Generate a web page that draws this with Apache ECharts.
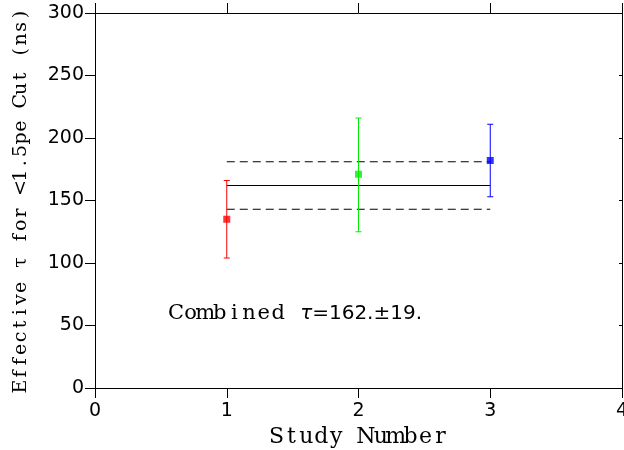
<!DOCTYPE html>
<html>
<head>
<meta charset="utf-8">
<script src="https://cdn.jsdelivr.net/npm/echarts@6/dist/echarts.min.js"></script>
<style>
html,body{margin:0;padding:0;background:#fff;}
#charts{width:624px;height:450px;}
</style>
</head>
<body>
<div id="charts"></div>
<script>
// study values
var studyNumber = [1, 2, 3];
var tauValue = [135, 171, 182];
var tauLow = [104, 125, 153];
var tauHigh = [166, 216, 211];
var studyColors = ['#ff0000', '#00ee00', '#0000ff'];
var combinedTau = 162;
var combinedErr = 19;
var combinedRange = [1, 3];
var xTicks = [0, 1, 2, 3, 4];
var yTicks = [0, 50, 100, 150, 200, 250, 300];

var serifFont = 'DejaVu Serif';
var sansFont = 'DejaVu Sans';

// typewriter look: every character in its own fixed cell
function monoRich(str){
	var out = '';
	for (var i = 0; i < str.length; i++) {
		out += '{c|' + str.charAt(i) + '}';
	}
	return out;
}
function cellStyle(size, pitch){
	return {c: {fontFamily: serifFont, fontSize: size, width: pitch, align: 'center', color: '#000'}};
}
function buildPoints(){
	var pts = [];
	for (var i = 0; i < studyNumber.length; i++) {
		pts.push({value: [studyNumber[i], tauValue[i]], itemStyle: {color: studyColors[i]}});
	}
	return pts;
}
function buildErrors(){
	var errs = [];
	for (var i = 0; i < studyNumber.length; i++) {
		errs.push([studyNumber[i], tauLow[i], tauHigh[i], i]);
	}
	return errs;
}
function renderError(params, api){
	var x = api.value(0);
	var lo = api.coord([x, api.value(1)]);
	var hi = api.coord([x, api.value(2)]);
	var c = studyColors[api.value(3)];
	var cap = 3;
	var style = {stroke: c, lineWidth: 1};
	return {
		type: 'group',
		children: [
			{type: 'line', shape: {x1: lo[0], y1: lo[1], x2: hi[0], y2: hi[1]}, style: style},
			{type: 'line', shape: {x1: lo[0] - cap, y1: lo[1], x2: lo[0] + cap, y2: lo[1]}, style: style},
			{type: 'line', shape: {x1: hi[0] - cap, y1: hi[1], x2: hi[0] + cap, y2: hi[1]}, style: style}
		]
	};
}

var axisLine = {show: true, onZero: false, lineStyle: {color: '#000', width: 1}};

var annoRich = cellStyle(21, 14.6);
annoRich.t = {fontFamily: sansFont, fontSize: 20, fontStyle: 'italic', fill: '#000'};
annoRich.s = {fontFamily: sansFont, fontSize: 20, fill: '#000'};

var options = {
	animation: false,
	backgroundColor: '#fff',
	grid: {left: 95, right: 2, top: 13, bottom: 62, containLabel: false, outerBoundsMode: 'none'},
	xAxis: [{
		type: 'value', min: xTicks[0], max: xTicks[xTicks.length - 1], interval: 1,
		position: 'bottom',
		name: monoRich('Study Number'), nameLocation: 'middle', nameGap: 38,
		nameTextStyle: {rich: cellStyle(22, 14.9)},
		axisLine: axisLine,
		axisTick: {show: true, inside: false, length: 10, lineStyle: {color: '#000'}},
		axisLabel: {fontFamily: sansFont, fontSize: 19, color: '#000', margin: 14},
		splitLine: {show: false}
	}, {
		type: 'value', min: xTicks[0], max: xTicks[xTicks.length - 1], interval: 1,
		position: 'top',
		axisLine: axisLine,
		axisTick: {show: true, inside: false, length: 10, lineStyle: {color: '#000'}},
		axisLabel: {show: false},
		splitLine: {show: false}
	}],
	yAxis: [{
		type: 'value', min: yTicks[0], max: yTicks[yTicks.length - 1], interval: 50,
		position: 'left',
		name: monoRich('Effective \u03c4 for <1.5pe Cut (ns)'), nameLocation: 'middle', nameGap: 64,
		nameTextStyle: {rich: cellStyle(19, 12.4)},
		axisLine: axisLine,
		axisTick: {show: true, inside: false, length: 10, lineStyle: {color: '#000'}},
		axisLabel: {fontFamily: sansFont, fontSize: 19, color: '#000', margin: 11},
		splitLine: {show: false}
	}, {
		type: 'value', min: yTicks[0], max: yTicks[yTicks.length - 1], interval: 50,
		position: 'right',
		axisLine: axisLine,
		axisTick: {show: true, inside: true, length: 3, lineStyle: {color: '#000'}},
		axisLabel: {show: false},
		splitLine: {show: false}
	}],
	series: [{
		type: 'line',
		data: [[combinedRange[0], combinedTau], [combinedRange[1], combinedTau]],
		symbol: 'none',
		lineStyle: {color: '#000', width: 1},
		z: 2
	}, {
		type: 'line',
		data: [[combinedRange[0], combinedTau + combinedErr], [combinedRange[1], combinedTau + combinedErr]],
		symbol: 'none',
		lineStyle: {color: '#000', width: 1, type: [8, 5]},
		z: 2
	}, {
		type: 'line',
		data: [[combinedRange[0], combinedTau - combinedErr], [combinedRange[1], combinedTau - combinedErr]],
		symbol: 'none',
		lineStyle: {color: '#000', width: 1, type: [8, 5]},
		z: 2
	}, {
		type: 'custom',
		renderItem: renderError,
		data: buildErrors(),
		z: 3
	}, {
		type: 'scatter',
		symbol: 'rect',
		symbolSize: 7,
		data: buildPoints(),
		z: 4
	}],
	graphic: [{
		type: 'text',
		left: 168,
		top: 303,
		style: {
			text: monoRich('Combined ') + '{t|\u03c4}{s|=' + combinedTau + '.\u00b1' + combinedErr + '.}',
			rich: annoRich
		}
	}]
};

var charts = echarts.init(document.getElementById('charts'));
charts.setOption(options);
</script>
</body>
</html>
